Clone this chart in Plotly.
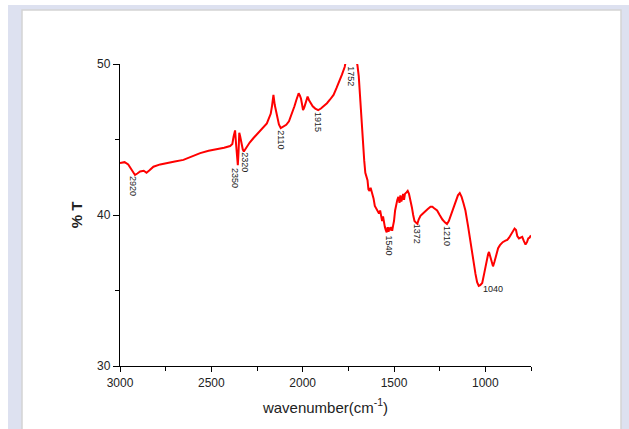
import plotly.graph_objects as go

wavenumber = [3000, 2975, 2955, 2940, 2930, 2918, 2905, 2890, 2870, 2855, 2840, 2817, 2780, 2744,
              2700, 2653, 2610, 2561, 2515, 2470, 2430, 2397, 2385, 2378, 2370, 2364, 2359, 2355,
              2351, 2347, 2342, 2336, 2328, 2322, 2310, 2290, 2269, 2240, 2210, 2196, 2185, 2175,
              2168, 2160, 2153, 2141, 2130, 2120, 2105, 2090, 2075, 2059, 2045, 2035, 2022, 2015,
              2009, 2003, 1998, 1992, 1986, 1978, 1973, 1965, 1958, 1945, 1931, 1915, 1900, 1885,
              1867, 1850, 1831, 1815, 1800, 1785, 1770, 1762, 1740, 1720, 1705, 1700, 1693, 1686,
              1678, 1670, 1663, 1657, 1650, 1645, 1640, 1634, 1628, 1620, 1612, 1605, 1597, 1590,
              1582, 1576, 1570, 1565, 1560, 1555, 1550, 1545, 1540, 1535, 1530, 1525, 1520, 1515,
              1510, 1505, 1500, 1494, 1488, 1482, 1476, 1470, 1465, 1460, 1455, 1450, 1445, 1440,
              1432, 1425, 1418, 1410, 1402, 1395, 1388, 1380, 1372, 1365, 1355, 1346, 1330, 1315,
              1300, 1290, 1280, 1264, 1250, 1235, 1220, 1210, 1200, 1185, 1173, 1160, 1150, 1140,
              1130, 1120, 1109, 1095, 1081, 1068, 1054, 1045, 1036, 1028, 1017, 1005, 995, 985,
              980, 972, 965, 958, 950, 940, 930, 920, 905, 890, 880, 870, 862, 850, 840, 832, 825,
              816, 808, 798, 790, 780, 772, 765, 758, 752, 750]
transmittance = [43.45, 43.5, 43.35, 43.1, 42.9, 42.65, 42.75, 42.88, 42.93, 42.8, 42.95, 43.2, 43.35, 43.45,
                 43.55, 43.65, 43.85, 44.1, 44.25, 44.35, 44.45, 44.57, 44.7, 45.2, 45.6, 44.6, 43.5, 43.3,
                 44.2, 45.45, 45.2, 44.8, 44.35, 44.2, 44.45, 44.8, 45.1, 45.5, 45.85, 46.07, 46.4, 46.7,
                 47.2, 47.95, 47.3, 46.5, 46.0, 45.75, 45.85, 45.97, 46.2, 46.7, 47.2, 47.6, 48.06, 47.9,
                 47.7, 47.3, 46.95, 47.1, 47.3, 47.7, 47.84, 47.6, 47.45, 47.2, 47.05, 46.95, 47.05, 47.2,
                 47.4, 47.65, 47.95, 48.4, 48.8, 49.3, 49.8, 50.3, 50.5, 50.4, 50.2, 49.9, 49.2, 47.8,
                 46.3, 44.8, 43.6, 42.8, 42.4, 42.3, 41.7, 41.6, 41.8, 41.5, 41.1, 40.6, 40.4, 40.2,
                 40.1, 40.3, 39.9, 39.6, 39.9, 39.4, 39.2, 39.0, 38.85, 39.2, 38.9, 39.1, 39.05, 39.2,
                 38.95, 39.3, 39.6, 40.3, 40.7, 41.0, 41.2, 40.8, 41.3, 40.9, 41.1, 41.4, 41.0, 41.4,
                 41.5, 41.6, 41.4, 41.0, 40.5, 40.0, 39.6, 39.5, 39.42, 39.7, 39.95, 40.05, 40.25, 40.4,
                 40.55, 40.55, 40.45, 40.3, 40.0, 39.7, 39.5, 39.4, 39.6, 40.1, 40.55, 40.9, 41.3, 41.45,
                 41.2, 40.8, 40.3, 39.3, 38.1, 37.0, 36.1, 35.55, 35.3, 35.35, 35.5, 36.2, 36.9, 37.4,
                 37.55, 37.2, 36.8, 36.6, 36.9, 37.4, 37.8, 38.0, 38.2, 38.3, 38.35, 38.5, 38.68, 38.9, 39.1, 39.0, 38.6,
                 38.45, 38.5, 38.55, 38.3, 38.05, 38.2, 38.45, 38.5, 38.6, 38.65]

peak_labels = ["2920", "2350", "2320", "2110", "1915", "1752", "1540", "1372", "1210", "1040"]
label_x = [2929, 2367, 2320, 2117, 1913, 1736, 1522, 1373, 1209, 958]
label_y = [41.92, 42.48, 43.48, 45.0, 46.19, 49.2, 37.98, 38.74, 38.6, 35.08]
label_angle = [90, 90, 90, 90, 90, 90, 90, 90, 90, 0]

W, H = 629, 429
L, R, T, B = 120, 98, 64, 63
pw, ph = W - L - R, H - T - B


def px(x):
    return (x - L) / pw


def py(y):
    return (H - B - y) / ph


fig = go.Figure()
fig.add_trace(go.Scatter(x=wavenumber, y=transmittance, mode="lines",
                         line=dict(color="#ff0000", width=2), showlegend=False,
                         hoverinfo="skip"))

for t, x, y, a in zip(peak_labels, label_x, label_y, label_angle):
    fig.add_annotation(x=x, y=y, text=t, textangle=a, showarrow=False,
                       xanchor="center", yanchor="middle",
                       font=dict(family="Liberation Sans, Arial", size=9, color="#222222"))

shapes = [
    dict(type="rect", xref="paper", yref="paper", x0=px(8), x1=px(640), y0=py(5), y1=py(440),
         fillcolor="#dde1f0", line=dict(width=0), layer="below"),
    dict(type="rect", xref="paper", yref="paper", x0=px(22), x1=px(621), y0=py(10), y1=py(440),
         fillcolor="#ffffff", line=dict(color="#d4d4d4", width=1.5), layer="below"),
]

fig.update_layout(
    width=W, height=H,
    margin=dict(l=L, r=R, t=T, b=B, pad=0),
    paper_bgcolor="#ffffff", plot_bgcolor="#ffffff",
    shapes=shapes,
    font=dict(family="Liberation Sans, Arial", color="#222222"),
    xaxis=dict(range=[3000, 750], tickmode="linear", tick0=3000, dtick=500,
               showgrid=False, zeroline=False, showline=True, linecolor="#000000", linewidth=1.3,
               ticks="outside", ticklen=5, tickwidth=1.2, tickcolor="#000000",
               minor=dict(dtick=250, tick0=3000, ticks="outside", ticklen=4, tickwidth=1, tickcolor="#000000"),
               tickfont=dict(size=12, color="#222222"),
               title=dict(text="wavenumber(cm<sup>-1</sup>)", font=dict(size=15, color="#222222"), standoff=13)),
    yaxis=dict(range=[30, 50], tickmode="linear", tick0=30, dtick=10,
               showgrid=False, zeroline=False, showline=True, linecolor="#000000", linewidth=1.3,
               ticks="outside", ticklen=6, tickwidth=1.2, tickcolor="#000000",
               minor=dict(dtick=5, tick0=30, ticks="outside", ticklen=4, tickwidth=1, tickcolor="#000000"),
               tickfont=dict(size=12, color="#222222"),
               title=dict(text="<b>% T</b>", font=dict(size=15, color="#222222"), standoff=10)),
)

fig.write_html("out.html")
